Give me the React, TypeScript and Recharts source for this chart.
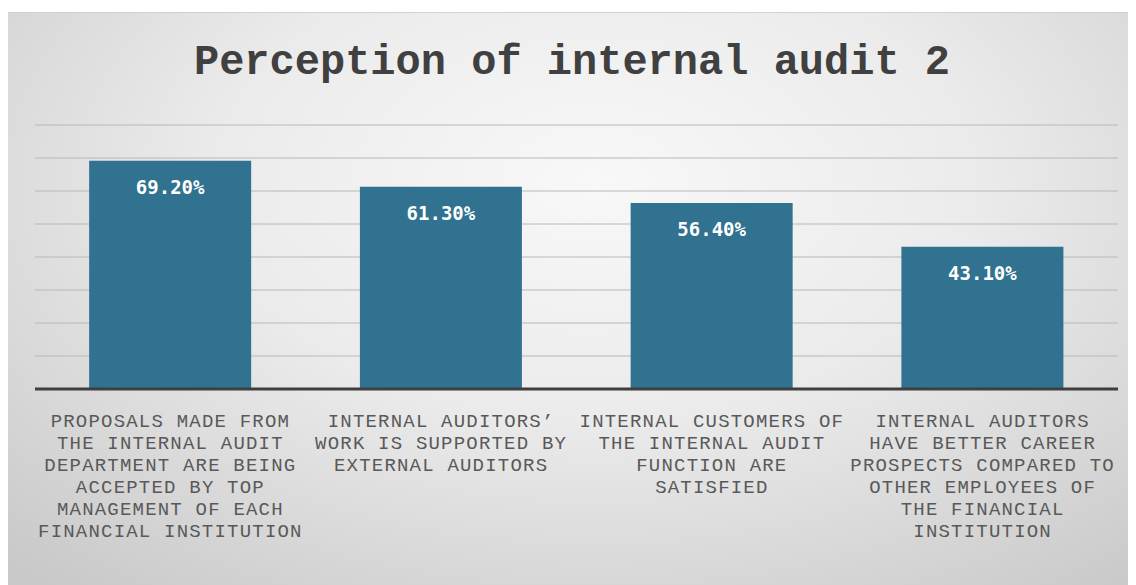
import React from 'react';
import { BarChart, Bar, XAxis, YAxis, CartesianGrid, LabelList } from 'recharts';

// Categories (x-axis) and the one series of percentages
const categories: string[] = [
  'PROPOSALS MADE FROM THE INTERNAL AUDIT DEPARTMENT ARE BEING ACCEPTED BY TOP MANAGEMENT OF EACH FINANCIAL INSTITUTION',
  'INTERNAL AUDITORS\u2019 WORK IS SUPPORTED BY EXTERNAL AUDITORS',
  'INTERNAL CUSTOMERS OF THE INTERNAL AUDIT FUNCTION ARE SATISFIED',
  'INTERNAL AUDITORS HAVE BETTER CAREER PROSPECTS COMPARED TO OTHER EMPLOYEES OF THE FINANCIAL INSTITUTION',
];
const values: number[] = [69.2, 61.3, 56.4, 43.1];
const gridTicks: number[] = [0, 10, 20, 30, 40, 50, 60, 70, 80];

const data = categories.map((name, i) => ({ name, value: values[i] }));

const MAX_CHARS = 21;

// greedy word wrap, Excel-ish
const wrap = (s: string): string[] => {
  const lines: string[] = [];
  let cur = '';
  s.split(' ').forEach((w) => {
    const next = cur ? cur + ' ' + w : w;
    if (next.length > MAX_CHARS && cur) {
      lines.push(cur);
      cur = w;
    } else {
      cur = next;
    }
  });
  if (cur) lines.push(cur);
  return lines;
};

const CategoryTick = (props: any) => {
  const { x, y, payload } = props;
  const lines = wrap(String(payload.value));
  return (
    <g>
      {lines.map((ln, i) => (
        <text
          key={i}
          x={x}
          y={y + 25 + i * 22}
          textAnchor="middle"
          dominantBaseline="central"
          fill="#595959"
          fontFamily="'Liberation Mono', 'Courier New', monospace"
          fontSize={19}
          letterSpacing={1.2}
        >
          {ln}
        </text>
      ))}
    </g>
  );
};

const ValueLabel = (props: any) => {
  const { x, y, width, value } = props;
  return (
    <text
      x={x + width / 2}
      y={y + 26}
      textAnchor="middle"
      dominantBaseline="central"
      fill="#ffffff"
      fontFamily="'DejaVu Sans Mono', monospace"
      fontWeight="bold"
      fontSize={19}
    >
      {value.toFixed(2)}%
    </text>
  );
};

export default function App() {
  return (
    <div
      style={{
        position: 'relative',
        width: 1128,
        height: 573,
        marginTop: 4,
        borderTop: '1px solid #d0d0d0',
        background: 'radial-gradient(ellipse 75% 90% at 52% 30%, #f8f8f8 0%, #ebebeb 45%, #c9c9c9 100%)',
      }}
    >
      <div
        style={{
          position: 'absolute',
          left: 0,
          width: 1128,
          top: 26,
          textAlign: 'center',
          fontFamily: "'Liberation Mono', 'Courier New', monospace",
          fontWeight: 'bold',
          fontSize: 42,
          color: '#404040',
        }}
      >
        Perception of internal audit 2
      </div>
      <BarChart
        width={1128}
        height={573}
        data={data}
        margin={{ top: 112, right: 18, left: 27, bottom: 0 }}
        barCategoryGap="20%"
        style={{ position: 'absolute', left: 0, top: 0 }}
      >
        <CartesianGrid vertical={false} stroke="#b8b8b8" strokeWidth={1} />
        <YAxis hide domain={[0, 80]} ticks={gridTicks} />
        <XAxis
          dataKey="name"
          interval={0}
          height={197}
          tickLine={false}
          axisLine={{ stroke: '#3f3f3f', strokeWidth: 3 }}
          tick={<CategoryTick />}
        />
        <Bar dataKey="value" fill="#30728f" isAnimationActive={false}>
          <LabelList dataKey="value" content={<ValueLabel />} />
        </Bar>
      </BarChart>
    </div>
  );
}
